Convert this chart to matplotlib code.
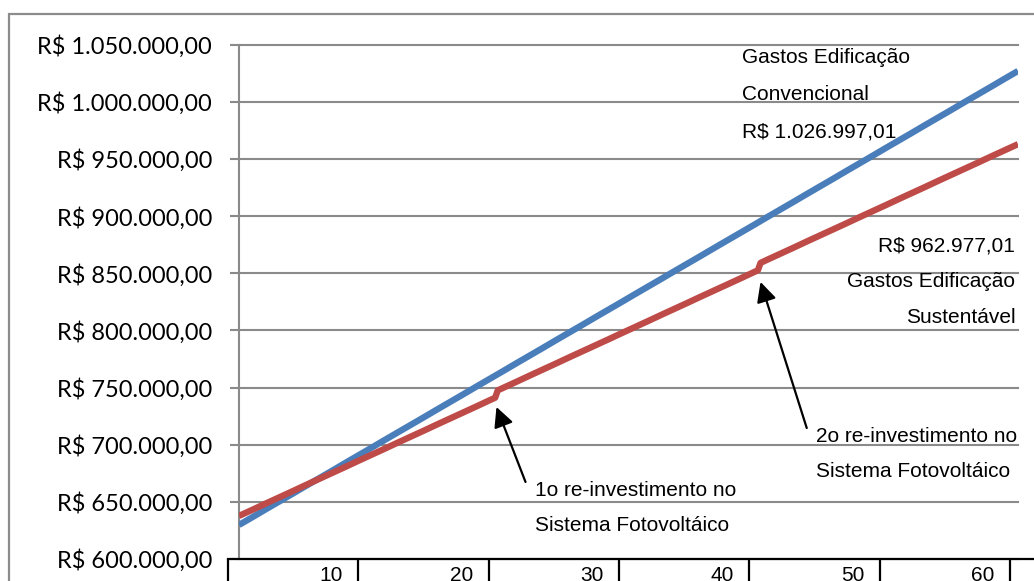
import matplotlib
matplotlib.use("Agg")
import matplotlib.pyplot as plt
from matplotlib.patches import Rectangle
from matplotlib.ticker import FuncFormatter

# data
anos = list(range(1, 61))
convencional = [629800, 636500, 643300, 650000, 656700, 663500, 670200, 676900, 683700, 690400,
                697100, 703900, 710600, 717300, 724000, 730800, 737500, 744200, 751000, 757700,
                764400, 771200, 777900, 784600, 791400, 798100, 804800, 811600, 818300, 825000,
                831800, 838500, 845200, 852000, 858700, 865400, 872200, 878900, 885600, 892300,
                899100, 905800, 912500, 919300, 926000, 932700, 939500, 946200, 952900, 959700,
                966400, 973100, 979900, 986600, 993300, 1000100, 1006800, 1013500, 1020300, 1026997]

# sustentavel has the two re-investment steps inside years 20 and 40
anos_sust = list(range(1, 21)) + [20.4, 20.6] + list(range(21, 41)) + [40.3, 40.5] + list(range(41, 61))
sustentavel = [637700, 643000, 648400, 653700, 659000, 664400, 669700, 675000, 680300, 685700,
               691000, 696300, 701700, 707000, 712300, 717700, 723000, 728300, 733600, 739000,
               741100, 747600,
               749700, 755000, 760400, 765700, 771000, 776400, 781700, 787000, 792300, 797700,
               803000, 808300, 813700, 819000, 824300, 829700, 835000, 840300, 845600, 851000,
               852600, 859100,
               861800, 867100, 872400, 877800, 883100, 888400, 893700, 899100, 904400, 909700,
               915100, 920400, 925700, 931100, 936400, 941700, 947000, 952400, 957700, 962977]

y_ticks = list(range(600000, 1050001, 50000))
x_ticks = [0, 10, 20, 30, 40, 50, 60]

W, H = 1034, 581
fig = plt.figure(figsize=(W / 100, H / 100), dpi=100)

# outer chart frame (cropped at right and bottom)
fig.add_artist(Rectangle((9 / W, -0.2), 1.2, 1.2 - 14 / H, transform=fig.transFigure,
                         fill=False, edgecolor="#8c8c8c", linewidth=1.6))

ax = fig.add_axes([239 / W, 22 / H, 779 / W, 514.3 / H])
ax.set_xlim(1, 60)
ax.set_ylim(600000, 1050000)

grey = "#8a8a8a"
ax.plot(anos, convencional, color="#4a7ebb", linewidth=4.6, solid_capstyle="butt", zorder=3)
ax.plot(anos_sust, sustentavel, color="#be4b48", linewidth=4.6, solid_capstyle="butt", zorder=4)

ax.set_yticks(y_ticks)


def reais(v, pos):
    s = f"{v:,.2f}".replace(",", "X").replace(".", ",").replace("X", ".")
    return "R$ " + s


ax.yaxis.set_major_formatter(FuncFormatter(reais))
ax.grid(axis="y", color=grey, linewidth=1.5)
for gl in ax.get_ygridlines():
    gl.set_clip_on(False)
ax.set_axisbelow(True)
ax.tick_params(axis="y", direction="out", length=6.5, width=1.5, color=grey, pad=13,
               labelsize=17)
for lab in ax.get_yticklabels():
    lab.set_family("Lato")
    lab.set_color("black")
ax.set_xticks([])
for s in ["top", "right", "bottom"]:
    ax.spines[s].set_visible(False)
ax.spines["left"].set_color(grey)
ax.spines["left"].set_linewidth(1.5)
ax.patch.set_visible(False)

# category axis at the bottom (black, with ticks between the labels)
ax2 = fig.add_axes([228 / W, 22 / H, (W - 228) / W, 0.0001])
ax2.set_xlim(0, (W - 228) / 13.03)
ax2.patch.set_visible(False)
for s in ["top", "right", "left"]:
    ax2.spines[s].set_visible(False)
ax2.spines["bottom"].set_color("black")
ax2.spines["bottom"].set_linewidth(1.6)
ax2.set_yticks([])
ax2.set_xticks(x_ticks)
ax2.set_xticklabels([])
ax2.tick_params(axis="x", which="major", direction="out", length=16, width=1.6, color="black")
ax2.set_xticks([t - 2.07 for t in x_ticks[1:]], minor=True)
ax2.set_xticklabels([str(t) for t in x_ticks[1:]], minor=True, family="Liberation Sans",
                    fontsize=15)
ax2.tick_params(axis="x", which="minor", length=0, pad=5)

txt = dict(family="Liberation Sans", fontsize=15, color="black")
ax.text(39.1, 1006000, "Gastos Edificação\nConvencional\nR$ 1.026.997,01",
        ha="left", va="center", linespacing=2.2, clip_on=False, **txt)
ax.text(59.8, 842400, "R$ 962.977,01\nGastos Edificação\nSustentável",
        ha="right", va="center", multialignment="right", linespacing=2.1, clip_on=False, **txt)
ax.text(44.7, 691900, "2o re-investimento no\nSistema Fotovoltáico",
        ha="left", va="center", linespacing=2.1, **txt)
ax.text(23.4, 644600, "1o re-investimento no\nSistema Fotovoltáico",
        ha="left", va="center", linespacing=2.1, **txt)

arrow = dict(arrowstyle="-|>,head_length=0.8,head_width=0.4", color="black", lw=1.6,
             mutation_scale=15, shrinkA=0, shrinkB=0)
ax.annotate("", xy=(20.5, 733000), xytext=(22.7, 667400), arrowprops=arrow)
ax.annotate("", xy=(40.5, 842400), xytext=(44.0, 714600), arrowprops=arrow)

fig.savefig("out.png", dpi=100)
